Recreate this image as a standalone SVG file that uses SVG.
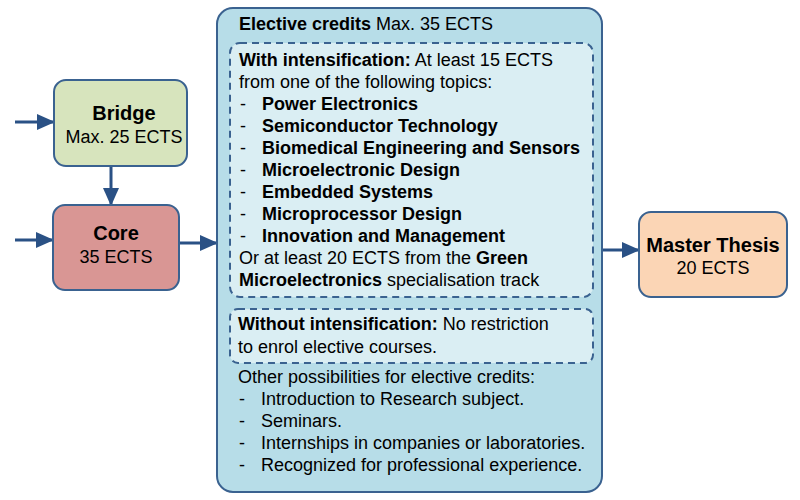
<svg xmlns="http://www.w3.org/2000/svg" width="800" height="500" viewBox="0 0 800 500">
<defs>
<marker id="ah" markerWidth="18" markerHeight="18" refX="17" refY="8" orient="auto" markerUnits="userSpaceOnUse" viewBox="0 0 18 16">
<path d="M0,0 L18,8 L0,16 z" fill="#2a5185"/>
</marker>
<style>
text{font-family:"Liberation Sans",Arial,sans-serif;font-size:18px;fill:#000}
.b{font-weight:bold}
.t{font-size:20px;font-weight:bold}
.box{stroke:#3a6290;stroke-width:2}
.dash{stroke:#3a6290;stroke-width:2;stroke-dasharray:7,5;fill:#daeef3}
.c{stroke:#2a5185;stroke-width:3;fill:none;marker-end:url(#ah)}
.m{text-anchor:middle}
</style>
</defs>
<g id="connectors">
<line class="c" x1="15" y1="122" x2="54" y2="122"/>
<line class="c" x1="15" y1="240" x2="53" y2="240"/>
<line class="c" x1="111" y1="166" x2="111" y2="205"/>
<line class="c" x1="179" y1="243" x2="217" y2="243"/>
<line class="c" x1="602" y1="250" x2="639" y2="250"/>
</g>
<g id="bridge">
<rect class="box" x="54" y="80" width="133" height="86" rx="12" fill="#d7e4bd"/>
<text class="t m" x="124" y="120">Bridge</text>
<text class="m" x="124" y="143">Max. 25 ECTS</text>
</g>
<g id="core">
<rect class="box" x="53" y="205" width="126" height="85" rx="12" fill="#d99694"/>
<text class="t m" x="116" y="240">Core</text>
<text class="m" x="116" y="263">35 ECTS</text>
</g>
<g id="elective">
<rect class="box" x="217" y="8" width="385" height="484" rx="16" fill="#b7dde8"/>
<text x="239" y="30"><tspan class="b">Elective credits</tspan> Max. 35 ECTS</text>
<rect class="dash" x="230" y="43" width="363" height="254" rx="10"/>
<text x="239" y="66"><tspan class="b">With intensification:</tspan> At least 15 ECTS</text>
<text x="239" y="88">from one of the following topics:</text>
<text x="240" y="110">-</text><text class="b" x="262" y="110">Power Electronics</text>
<text x="240" y="132">-</text><text class="b" x="262" y="132">Semiconductor Technology</text>
<text x="240" y="154">-</text><text class="b" x="262" y="154">Biomedical Engineering and Sensors</text>
<text x="240" y="176">-</text><text class="b" x="262" y="176">Microelectronic Design</text>
<text x="240" y="198">-</text><text class="b" x="262" y="198">Embedded Systems</text>
<text x="240" y="220">-</text><text class="b" x="262" y="220">Microprocessor Design</text>
<text x="240" y="242">-</text><text class="b" x="262" y="242">Innovation and Management</text>
<text x="239" y="264">Or at least 20 ECTS from the <tspan class="b">Green</tspan></text>
<text x="239" y="286"><tspan class="b">Microelectronics</tspan> specialisation track</text>
<rect class="dash" x="230" y="309" width="363" height="54" rx="8"/>
<text x="238" y="330"><tspan class="b">Without intensification:</tspan> No restriction</text>
<text x="238" y="353">to enrol elective courses.</text>
<text x="238" y="383">Other possibilities for elective credits:</text>
<text x="239" y="405">-</text><text x="261" y="405">Introduction to Research subject.</text>
<text x="239" y="427">-</text><text x="261" y="427">Seminars.</text>
<text x="239" y="449">-</text><text x="261" y="449">Internships in companies or laboratories.</text>
<text x="239" y="471">-</text><text x="261" y="471">Recognized for professional experience.</text>
</g>
<g id="master">
<rect class="box" x="639" y="212" width="148" height="85" rx="12" fill="#fbd5b5"/>
<text class="t m" x="713" y="252">Master Thesis</text>
<text class="m" x="713" y="274">20 ECTS</text>
</g>
</svg>
